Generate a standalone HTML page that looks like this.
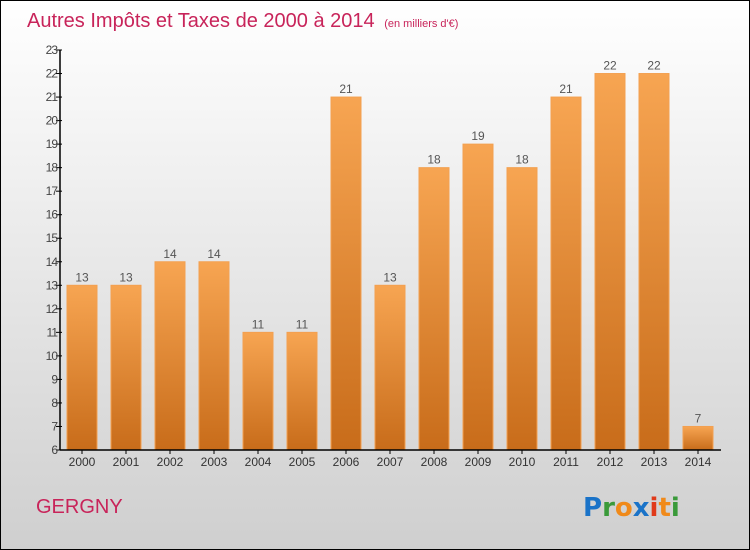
<!DOCTYPE html>
<html><head><meta charset="utf-8"><style>
body{margin:0}
svg{display:block;font-family:"Liberation Sans",sans-serif}
</style></head><body>
<svg width="750" height="550" viewBox="0 0 750 550">
<defs>
<linearGradient id="bg" x1="0" y1="0" x2="0" y2="1"><stop offset="0" stop-color="#ffffff"/><stop offset="1" stop-color="#cfcfcf"/></linearGradient>
<linearGradient id="bar" x1="0" y1="0" x2="0" y2="1"><stop offset="0" stop-color="#f7a552"/><stop offset="1" stop-color="#c86c1a"/></linearGradient>
</defs>
<rect x="0.5" y="0.5" width="749" height="549" fill="url(#bg)" stroke="#000"/>
<text x="27" y="27" font-size="20" fill="#c8245a">Autres Impôts et Taxes de 2000 à 2014 <tspan font-size="11" dx="4">(en milliers d'€)</tspan></text>
<g id="plot"></g>
<text x="36" y="513" font-size="20" fill="#c8245a">GERGNY</text>
<g font-size="26" font-weight="bold" font-family="'DejaVu Sans',sans-serif">
<text x="583" y="516"><tspan fill="#1a73c8">P</tspan><tspan fill="#3a9a3a">r</tspan><tspan fill="#f08a1a">o</tspan><tspan fill="#1a73c8">x</tspan><tspan fill="#e03a1a">i</tspan><tspan fill="#f08a1a">t</tspan><tspan fill="#3a9a3a">i</tspan></text>
</g>
</svg>
<script>
const categories=["2000","2001","2002","2003","2004","2005","2006","2007","2008","2009","2010","2011","2012","2013","2014"];
const values=[13,13,14,14,11,11,21,13,18,19,18,21,22,22,7];
const yTicks=[6,7,8,9,10,11,12,13,14,15,16,17,18,19,20,21,22,23];
const NS="http://www.w3.org/2000/svg";
const g=document.getElementById('plot');
const x0=60,band=44,yMin=6,yMax=23,yTop=50,yBot=450;
const y=v=>yBot-(v-yMin)*(yBot-yTop)/(yMax-yMin);
function mk(t,a){const e=document.createElementNS(NS,t);for(const k in a)e.setAttribute(k,a[k]);g.appendChild(e);return e;}
categories.forEach((c,i)=>{
 const r=mk('rect',{x:x0+i*band+7,y:y(values[i]),width:30,height:yBot-y(values[i]),fill:'url(#bar)',stroke:'#f3a050','stroke-width':1});
 
 
 const t=mk('text',{x:x0+i*band+22,y:y(values[i])-4,'text-anchor':'middle','font-size':12,fill:'#555'});t.textContent=values[i];
 
 
 const l=mk('text',{x:x0+i*band+22,y:466,'text-anchor':'middle','font-size':12,fill:'#333'});l.textContent=c;
 
 
 mk('line',{x1:x0+i*band+22,x2:x0+i*band+22,y1:yBot,y2:yBot+4,stroke:'#000'});
});
yTicks.forEach(v=>{
 mk('line',{x1:x0-4,x2:x0+2,y1:y(v),y2:y(v),stroke:'#000'});
 const t=mk('text',{x:x0-3,y:y(v)+4,'text-anchor':'end','font-size':12,fill:'#444','letter-spacing':'-1'});t.textContent=v;
 
 
});
const ya=mk('line',{x1:x0,x2:x0,y1:yTop,y2:yBot,stroke:'#000','stroke-width':1.5});


const xa=mk('line',{x1:x0,x2:x0+band*15+1,y1:yBot,y2:yBot,stroke:'#000','stroke-width':1.5});


</script>
</body></html>
